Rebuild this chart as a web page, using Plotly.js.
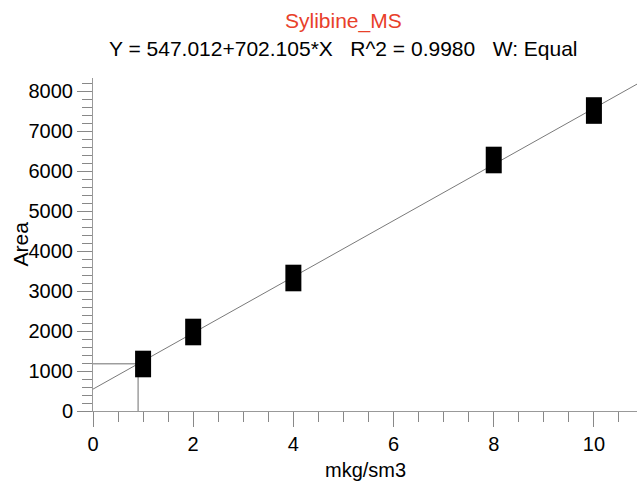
<!DOCTYPE html>
<html><head><meta charset="utf-8">
<script src="https://cdn.plot.ly/plotly-3.0.1.min.js"></script>
<style>body{margin:0;background:#fff}#c{width:638px;height:481px}</style>
</head><body><div id="c"></div>
<script>
var calX = [1, 2, 4, 8, 10];
var calY = [1175, 1975, 3325, 6275, 7512];
var fitX = [0, 10.86];
var fitY = [547, 8172];
var sampleX = [0, 0.9, 0.9];
var sampleY = [1179, 1179, 0];
var titleMain = "Sylibine_MS";
var titleSub = "Y = 547.012+702.105*X&nbsp;&nbsp;&nbsp;R^2 = 0.9980&nbsp;&nbsp;&nbsp;W: Equal";

var font = "Liberation Sans, Arial, sans-serif";
var traces = [
  {x: fitX, y: fitY, mode: "lines", line: {color: "#7a7a7a", width: 1}, hoverinfo: "skip"},
  {x: sampleX, y: sampleY, mode: "lines", line: {color: "#6e6e6e", width: 1}, hoverinfo: "skip"},
  {x: calX, y: calY, mode: "markers",
   marker: {symbol: "line-ns", size: 19, line: {width: 16, color: "#000"}}}
];
var layout = {
  width: 638, height: 481,
  margin: {l: 93, r: 1, t: 78, b: 70},
  showlegend: false,
  paper_bgcolor: "#fff", plot_bgcolor: "#fff",
  font: {family: font, size: 20, color: "#000"},
  xaxis: {range: [0, 10.86], showgrid: false, zeroline: false, showline: true, linecolor: "#999", linewidth: 1,
    ticks: "outside", ticklen: 15, tickcolor: "#888", tickwidth: 1, dtick: 2, tick0: 0,
    minor: {dtick: 0.5, ticks: "outside", ticklen: 10, tickcolor: "#888", tickwidth: 1, showgrid: false},
    tickfont: {family: font, size: 20, color: "#000"}},
  yaxis: {range: [0, 8325], showgrid: false, zeroline: false, showline: true, linecolor: "#999", linewidth: 1,
    ticks: "outside", ticklen: 15, tickcolor: "#888", tickwidth: 1, dtick: 1000, tick0: 0,
    minor: {dtick: 200, ticks: "outside", ticklen: 10, tickcolor: "#888", tickwidth: 1, showgrid: false},
    tickfont: {family: font, size: 20, color: "#000"}},
  annotations: [
    {text: titleMain, xref: "paper", yref: "paper", x: 0.461, y: 1, yshift: 57, xanchor: "center", yanchor: "middle",
     showarrow: false, font: {family: font, size: 21, color: "#e8402a"}},
    {text: titleSub, xref: "paper", yref: "paper", x: 0.461, y: 1, yshift: 30, xanchor: "center", yanchor: "middle",
     showarrow: false, font: {family: font, size: 21, color: "#000"}},
    {text: "mkg/sm3", xref: "paper", yref: "paper", x: 0.5, y: 0, yshift: -59, xanchor: "center", yanchor: "middle",
     showarrow: false, font: {family: font, size: 20, color: "#000"}},
    {text: "Area", xref: "paper", yref: "paper", x: 0, xshift: -73, y: 0.5, textangle: -90, xanchor: "center", yanchor: "middle",
     showarrow: false, font: {family: font, size: 21, color: "#000"}}
  ]
};
Plotly.newPlot("c", traces, layout, {displayModeBar: false, staticPlot: true});
</script></body></html>
